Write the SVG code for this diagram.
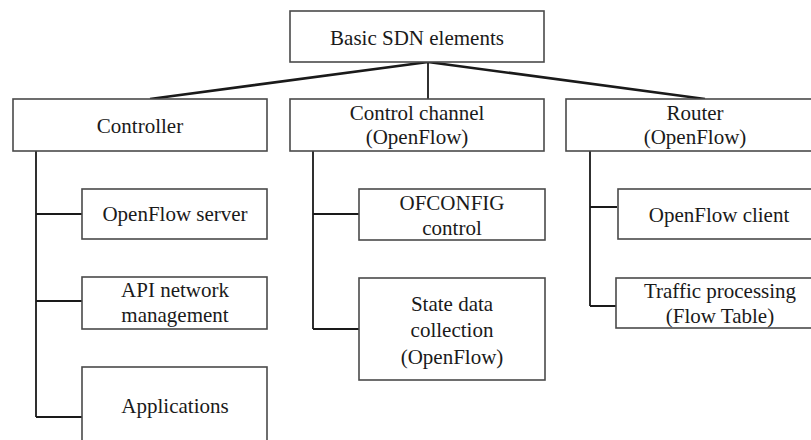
<svg xmlns="http://www.w3.org/2000/svg" width="811" height="440" viewBox="0 0 811 440">
<style>
.box{fill:#fff;stroke:#4a4a4a;stroke-width:1.6}
.t{font-family:"Liberation Serif","Times New Roman",serif;font-size:21px;fill:#1a1a1a;text-anchor:middle}
.c{fill:none;stroke:#1a1a1a;stroke-width:1.8}
.d{fill:none;stroke:#1a1a1a;stroke-width:2.6}
</style>
<rect width="811" height="440" fill="#fff"/>
<g id="connectors">
<path class="d" d="M428 62 L150 99 M428 62 L705 99"/>
<path class="c" d="M428 62 V99"/>
<path class="c" d="M36 151 V417 M36 214 H82 M36 301 H82 M36 417 H82"/>
<path class="c" d="M313 151 V329 M313 214 H359 M313 329 H359"/>
<path class="c" d="M590 151 V306 M590 207 H617 M590 306 H616"/>
</g>
<g id="root"><rect class="box" x="290" y="11" width="254" height="51"/><text class="t" x="417" y="45">Basic SDN elements</text></g>
<g id="controller"><rect class="box" x="13" y="99" width="254" height="52"/><text class="t" x="140" y="133">Controller</text></g>
<g id="control-channel"><rect class="box" x="290" y="99" width="254" height="52"/><text class="t" x="417" y="120">Control channel</text><text class="t" x="417" y="144">(OpenFlow)</text></g>
<g id="router"><rect class="box" x="566" y="99" width="260" height="52"/><text class="t" x="695" y="120">Router</text><text class="t" x="695" y="144">(OpenFlow)</text></g>
<g id="openflow-server"><rect class="box" x="82" y="189" width="185" height="50"/><text class="t" x="175" y="221">OpenFlow server</text></g>
<g id="api-network-management"><rect class="box" x="82" y="277" width="185" height="52"/><text class="t" x="175" y="297">API network</text><text class="t" x="175" y="322">management</text></g>
<g id="applications"><rect class="box" x="82" y="367" width="185" height="80"/><text class="t" x="175" y="413">Applications</text></g>
<g id="ofconfig-control"><rect class="box" x="359" y="189" width="186" height="51"/><text class="t" x="452" y="210">OFCONFIG</text><text class="t" x="452" y="235">control</text></g>
<g id="state-data-collection"><rect class="box" x="359" y="278" width="186" height="102"/><text class="t" x="452" y="311">State data</text><text class="t" x="452" y="337">collection</text><text class="t" x="452" y="364">(OpenFlow)</text></g>
<g id="openflow-client"><rect class="box" x="618" y="189" width="204" height="50"/><text class="t" x="719" y="222">OpenFlow client</text></g>
<g id="traffic-processing"><rect class="box" x="616" y="278" width="208" height="50"/><text class="t" x="720" y="298">Traffic processing</text><text class="t" x="720" y="323">(Flow Table)</text></g>
</svg>
